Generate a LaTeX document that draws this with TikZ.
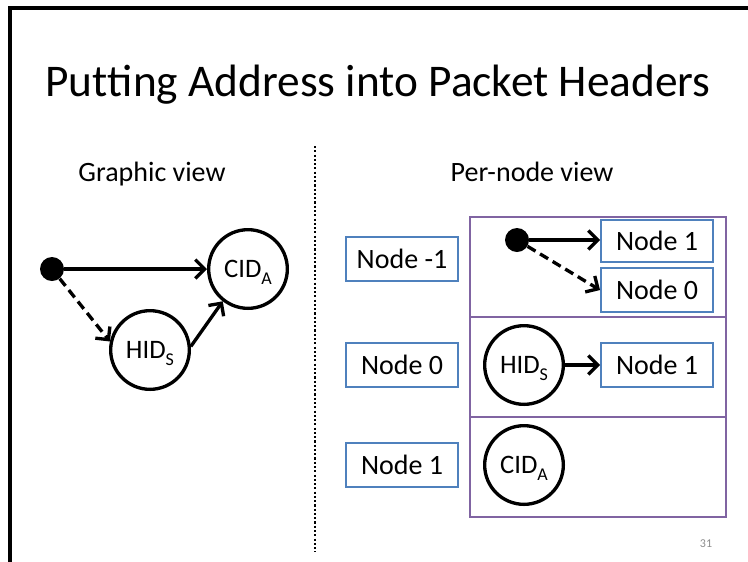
\documentclass[tikz,border=0pt]{standalone}
\usepackage{fontspec}
\setmainfont{Carlito}
\usetikzlibrary{arrows.meta}
\definecolor{boxblue}{HTML}{4F81BD}
\definecolor{boxpurple}{HTML}{8064A2}
\definecolor{pagegray}{HTML}{8C8C8C}
\newcommand\idsub[1]{\raisebox{-0.24em}{\fontsize{13.5}{15}\selectfont #1}}
\begin{document}
\begin{tikzpicture}[x=0.75pt,y=-0.75pt,
  nodebox/.style={draw=boxblue,line width=1.5pt,minimum width=84pt,minimum height=33pt,inner sep=0pt,font=\fontsize{21}{24}\selectfont},
  idcircle/.style={circle,draw=black,line width=2.5pt,minimum size=59pt,inner sep=0pt,text height=13pt,text depth=0pt,font=\fontsize{20}{24}\selectfont},
  dotnode/.style={circle,fill=black,minimum size=18pt,inner sep=0pt},
  conn/.style={line width=2.5pt,-{Straight Barb[length=7pt,width=14pt]}},
  dashedconn/.style={conn,dash pattern=on 7pt off 4pt},
  lane/.style={draw=boxpurple,line width=1.5pt,minimum width=192pt,minimum height=75pt,inner sep=0pt},
  heading/.style={anchor=base,font=\fontsize{21}{24}\selectfont}
]
\useasboundingbox (0,0) rectangle (748,561);
% frame
\draw[line width=2.4pt] (10,562) -- (10,8) -- (750,8);
% title
\node[anchor=base,font=\fontsize{34}{38}\selectfont] (title) at (378,96) {Put\kern0ptting Address into Packet Headers};
\node[heading] (hleft) at (152,181) {Graphic view};
\node[heading] (hright) at (532,181) {Per-node view};
% divider
\draw[line width=1.6pt,dash pattern=on 1.6pt off 1.6pt] (315,146) -- (315,552);
% left graph
\node[dotnode] (ldot) at (52,269) {};
\node[idcircle] (lcid) at (248,269) {CID\idsub{A}};
\node[idcircle] (lhid) at (150,350) {HID\idsub{S}};
\draw[conn] (ldot) -- (lcid);
\draw[dashedconn] (ldot) -- (lhid.168);
\draw[conn] (lhid.5) -- (lcid.232);
% right: rows
\node[lane] (row1) at (598,267) {};
\node[lane] (row2) at (598,367) {};
\node[lane] (row3) at (598,467) {};
% left column
\node[nodebox] (lnm1) at (402,259) {Node -1};
\node[nodebox] (ln0) at (402,365) {Node 0};
\node[nodebox] (ln1) at (402,465) {Node 1};
% row 1
\node[dotnode] (rdot) at (517,240) {};
\node[nodebox,minimum height=31.5pt] (ra1) at (657,241) {Node 1};
\node[nodebox] (ra0) at (657,290) {Node 0};
\draw[conn] (rdot) -- (ra1.west |- rdot);
\draw[dashedconn] (rdot) -- (ra0.west);
% row 2
\node[idcircle] (rhid) at (524,365) {HID\idsub{S}};
\node[nodebox] (rb1) at (657,365) {Node 1};
\draw[conn] (rhid) -- (rb1);
% row 3
\node[idcircle] (rcid) at (524,465) {CID\idsub{A}};
% page number
\node[anchor=base,text=pagegray,font=\fontsize{9}{10}\selectfont] (pnum) at (706,547) {31};
\end{tikzpicture}
\end{document}
